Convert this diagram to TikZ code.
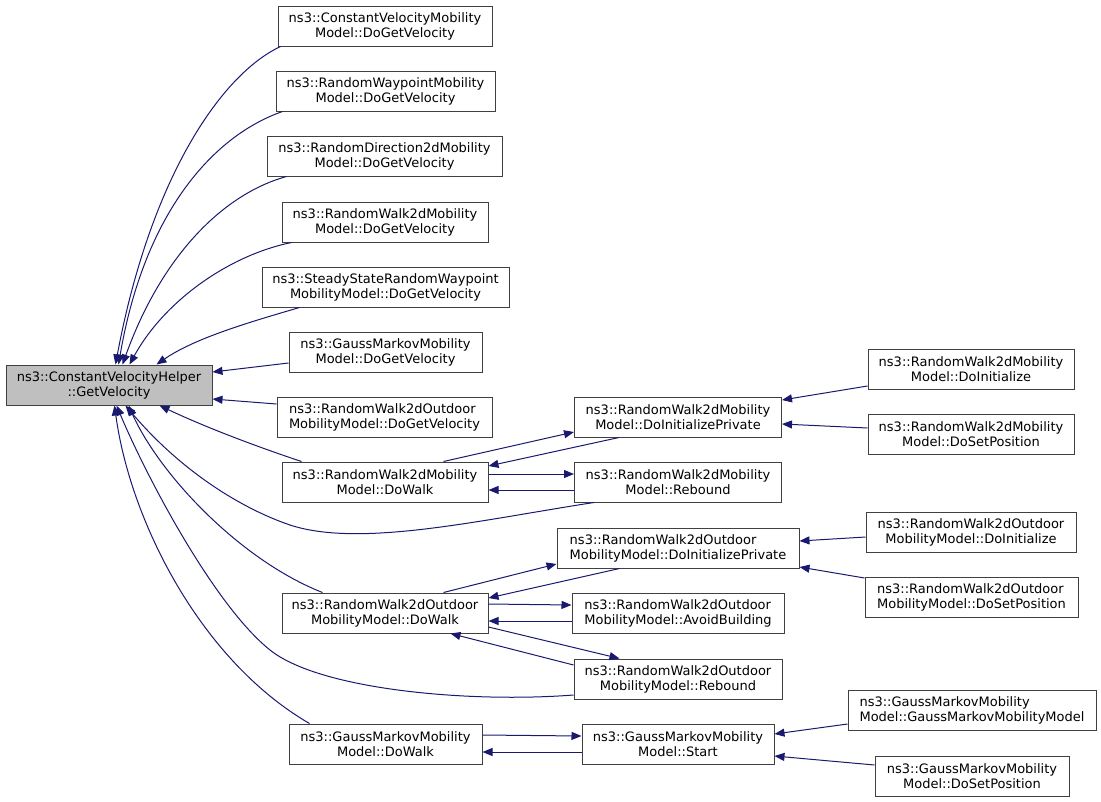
\documentclass[tikz,border=0pt]{standalone}
\usepackage{fontspec}
\setmainfont{DejaVu Sans}
\usetikzlibrary{arrows.meta,calc}
\definecolor{edgeblue}{HTML}{191970}
\definecolor{mainfill}{HTML}{BFBFBF}
\newbox\lblA
\newbox\lblB
\newdimen\lblW
\newcommand{\dlbl}[2]{\setbox\lblA=\hbox{#1}\setbox\lblB=\hbox{#2}%
  \ifdim\wd\lblA>\wd\lblB \lblW=\wd\lblA\else\lblW=\wd\lblB\fi
  \vbox{\hbox to\lblW{\box\lblA\hfil}\hbox to\lblW{\hfil\box\lblB\hfil}}}
\begin{document}
\begin{tikzpicture}[x=1pt,y=-1pt,
  box/.style={draw=black!75,line width=1pt,fill=white,rectangle,minimum height=40pt,
    inner xsep=6pt,inner ysep=0pt,font=\fontsize{13}{15}\selectfont},
  conn/.style={draw=edgeblue,line width=1pt,-{Triangle[length=10pt,width=8pt,fill=edgeblue]}}]
\useasboundingbox (0,0) rectangle (1101,801);
% nodes
\node[box,fill=mainfill,minimum width=206pt] (main) at (109,385) {\dlbl{ns3::ConstantVelocityHelper}{::GetVelocity}};
\node[box,minimum width=214pt] (n2) at (385,26) {\dlbl{ns3::ConstantVelocityMobility}{Model::DoGetVelocity}};
\node[box,minimum width=219pt] (n3) at (385.5,91) {\dlbl{ns3::RandomWaypointMobility}{Model::DoGetVelocity}};
\node[box,minimum width=235pt] (n4) at (384.5,156) {\dlbl{ns3::RandomDirection2dMobility}{Model::DoGetVelocity}};
\node[box,minimum width=206pt] (n5) at (385,222) {\dlbl{ns3::RandomWalk2dMobility}{Model::DoGetVelocity}};
\node[box,minimum width=247pt] (n6) at (385.5,287) {\dlbl{ns3::SteadyStateRandomWaypoint}{MobilityModel::DoGetVelocity}};
\node[box,minimum width=193pt] (n7) at (385.5,352) {\dlbl{ns3::GaussMarkovMobility}{Model::DoGetVelocity}};
\node[box,minimum width=215pt] (n8) at (384.5,417) {\dlbl{ns3::RandomWalk2dOutdoor}{MobilityModel::DoGetVelocity}};
\node[box,minimum width=206pt] (n9) at (385,482) {\dlbl{ns3::RandomWalk2dMobility}{Model::DoWalk}};
\node[box,minimum width=206pt] (n10) at (385,613) {\dlbl{ns3::RandomWalk2dOutdoor}{MobilityModel::DoWalk}};
\node[box,minimum width=193pt] (n11) at (385.5,744) {\dlbl{ns3::GaussMarkovMobility}{Model::DoWalk}};
\node[box,minimum width=207pt] (n12) at (678,417) {\dlbl{ns3::RandomWalk2dMobility}{Model::DoInitializePrivate}};
\node[box,minimum width=207pt] (n13) at (678,482) {\dlbl{ns3::RandomWalk2dMobility}{Model::Rebound}};
\node[box,minimum width=242pt] (n14) at (678,548) {\dlbl{ns3::RandomWalk2dOutdoor}{MobilityModel::DoInitializePrivate}};
\node[box,minimum width=212pt] (n15) at (678,613) {\dlbl{ns3::RandomWalk2dOutdoor}{MobilityModel::AvoidBuilding}};
\node[box,minimum width=208pt] (n16) at (678,679) {\dlbl{ns3::RandomWalk2dOutdoor}{MobilityModel::Rebound}};
\node[box,minimum width=192pt] (n17) at (678,744) {\dlbl{ns3::GaussMarkovMobility}{Model::Start}};
\node[box,minimum width=206pt] (n18) at (971,369) {\dlbl{ns3::RandomWalk2dMobility}{Model::DoInitialize}};
\node[box,minimum width=206pt] (n19) at (971,434) {\dlbl{ns3::RandomWalk2dMobility}{Model::DoSetPosition}};
\node[box,minimum width=210pt] (n20) at (971,532) {\dlbl{ns3::RandomWalk2dOutdoor}{MobilityModel::DoInitialize}};
\node[box,minimum width=213pt] (n21) at (971.5,597) {\dlbl{ns3::RandomWalk2dOutdoor}{MobilityModel::DoSetPosition}};
\node[box,minimum width=248pt] (n22) at (972,710) {\dlbl{ns3::GaussMarkovMobility}{Model::GaussMarkovMobilityModel}};
\node[box,minimum width=194pt] (n23) at (972,776) {\dlbl{ns3::GaussMarkovMobility}{Model::DoSetPosition}};
% connectors into main
\draw[conn] ($(n2.south west)+(3,0)$) .. controls (220,75) and (150,180) .. ($(main.north west)+(110,0)$);
\draw[conn] ($(n3.south west)+(7,0)$) .. controls (215,135) and (145,210) .. ($(main.north west)+(113,0)$);
\draw[conn] ($(n4.south west)+(20,0)$) .. controls (220,195) and (160,260) .. ($(main.north west)+(117,0)$);
\draw[conn] ($(n5.south west)+(10,0)$) .. controls (230,255) and (165,300) .. ($(main.north west)+(124,0)$);
\draw[conn] ($(n6.south west)+(38,0)$) .. controls (250,322) and (195,338) .. ($(main.north west)+(151,0)$);
\draw[conn] ($(n7.west)+(0,11)$) -- ($(main.east)+(0,-13)$);
\draw[conn] ($(n8.west)+(0,-13)$) -- ($(main.east)+(0,14)$);
\draw[conn] ($(n9.north west)+(20,0)$) .. controls (255,446) and (205,427) .. ($(main.south west)+(154,0)$);
\draw[conn] ($(n13.south west)+(20,0)$) .. controls (480,520) and (360,548) .. (290,525) .. controls (240,508) and (180,470) .. ($(main.south west)+(120,0)$);
\draw[conn] ($(n10.north west)+(41,0)$) .. controls (240,560) and (160,475) .. ($(main.south west)+(123,0)$);
\draw[conn] ($(n16.west)+(0,16)$) .. controls (470,703) and (320,690) .. (270,650) .. controls (215,606) and (148,480) .. ($(main.south west)+(111,0)$);
\draw[conn] ($(n11.north west)+(21,0)$) .. controls (200,660) and (130,520) .. ($(main.south west)+(109,0)$);
% RandomWalk2dMobility group
\draw[conn] ($(n9.north east)+(-45,0)$) -- ($(n12.west)+(0,15)$);
\draw[conn] ($(n12.south west)+(45,0)$) -- ($(n9.east)+(0,-16)$);
\draw[conn] ($(n9.east)+(0,-8)$) -- ($(n13.west)+(0,-8)$);
\draw[conn] ($(n13.west)+(0,8)$) -- ($(n9.east)+(0,8)$);
\draw[conn] ($(n18.west)+(0,17)$) -- ($(n12.east)+(0,-17)$);
\draw[conn] ($(n19.west)+(0,-6)$) -- ($(n12.east)+(0,7)$);
% RandomWalk2dOutdoor group
\draw[conn] ($(n10.north east)+(-45,0)$) -- ($(n14.west)+(0,16)$);
\draw[conn] ($(n14.south west)+(63,0)$) -- ($(n10.east)+(0,-15)$);
\draw[conn] ($(n10.east)+(0,-9)$) -- ($(n15.west)+(0,-8)$);
\draw[conn] ($(n15.west)+(0,8)$) -- ($(n10.east)+(0,8)$);
\draw[conn] ($(n10.east)+(0,14)$) -- ($(n16.north west)+(46,0)$);
\draw[conn] ($(n16.west)+(0,-14)$) -- ($(n10.south east)+(-38,0)$);
\draw[conn] ($(n20.west)+(0,5)$) -- ($(n14.east)+(0,-7)$);
\draw[conn] ($(n21.west)+(0,-19)$) -- ($(n14.east)+(0,19)$);
% GaussMarkov group
\draw[conn] ($(n11.east)+(0,-9)$) -- ($(n17.west)+(0,-8)$);
\draw[conn] ($(n17.west)+(0,8)$) -- ($(n11.east)+(0,8)$);
\draw[conn] ($(n22.west)+(0,14)$) -- ($(n17.east)+(0,-10)$);
\draw[conn] ($(n23.west)+(0,-11)$) -- ($(n17.east)+(0,12)$);
\end{tikzpicture}
\end{document}
